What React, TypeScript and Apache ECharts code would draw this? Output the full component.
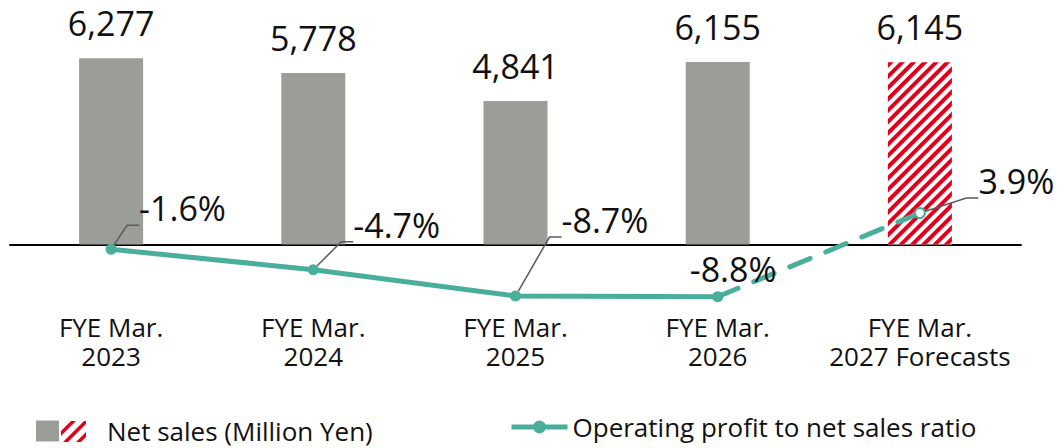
import React, { useEffect, useRef } from 'react';
import * as echarts from 'echarts';

const categories = [
  'FYE Mar.\n2023',
  'FYE Mar.\n2024',
  'FYE Mar.\n2025',
  'FYE Mar.\n2026',
  'FYE Mar.\n2027 Forecasts',
];
const netSales = [6277, 5778, 4841, 6155, 6145];
const ratioActual: (number | null)[] = [-1.6, -4.7, -8.7, -8.8, null];
const ratioForecast: (number | null)[] = [null, null, null, -8.8, 3.9];
const forecastIndex = 4;
const barName = 'Net sales (Million Yen)';
const lineName = 'Operating profit to net sales ratio';

// label layout offsets (dx, dy) relative to the default "right" position
const ratioLabelOffsets = [
  [16.5, -41],
  [28.5, -45],
  [34.5, -76],
  [-39.5, -28],
  [46.5, -32],
];
const hideLeader = [false, false, false, true, false];

const FONT = '"Open Sans", "Noto Sans", sans-serif';
const GRAY = '#9b9e98';
const RED = '#e3001b';
const TEAL = '#4aae9c';

function clipBand(x0: number, y0: number, w: number, h: number, k1: number, k2: number) {
  // region inside box where k1 <= u - v <= k2, u = x - x0, v = y0 + h - y
  let poly = [
    [0, 0],
    [w, 0],
    [w, h],
    [0, h],
  ];
  const clip = (pts: number[][], f: (p: number[]) => number) => {
    const out: number[][] = [];
    for (let i = 0; i < pts.length; i++) {
      const a = pts[i];
      const b = pts[(i + 1) % pts.length];
      const fa = f(a);
      const fb = f(b);
      if (fa >= 0) out.push(a);
      if ((fa >= 0) !== (fb >= 0)) {
        const t = fa / (fa - fb);
        out.push([a[0] + (b[0] - a[0]) * t, a[1] + (b[1] - a[1]) * t]);
      }
    }
    return out;
  };
  poly = clip(poly, (p) => p[0] - p[1] - k1);
  poly = clip(poly, (p) => k2 - (p[0] - p[1]));
  return poly.map((p) => [x0 + p[0], y0 + h - p[1]]);
}

export default function App() {
  const ref = useRef<HTMLDivElement>(null);
  useEffect(() => {
    if (!ref.current) return;
    const chart = echarts.init(ref.current, undefined, { renderer: 'svg' });

    const barData = netSales.map((v, i) =>
      i === forecastIndex
        ? {
            value: v,
            itemStyle: {
              color: '#ffffff',
              decal: {
                symbol: 'rect',
                symbolSize: 1,
                color: RED,
                dashArrayX: [1, 0],
                dashArrayY: [4, 4],
                rotation: -Math.PI / 4,
              },
            },
          }
        : v
    );

    const actualData = ratioActual.map((v, i) =>
      v == null
        ? '-'
        : {
            value: v,
            label: { show: true, offset: ratioLabelOffsets[i] },
            labelLine: { show: !hideLeader[i] },
          }
    );
    const forecastData = ratioForecast.map((v, i) => {
      if (v == null) return '-';
      if (i === forecastIndex)
        return {
          value: v,
          symbol: 'emptyCircle',
          symbolSize: 10,
          label: { show: true, offset: ratioLabelOffsets[i] },
          labelLine: { show: true },
        };
      return { value: v, symbol: 'none' };
    });

    const hatchStripes = [
      [-11, -6],
      [2, 7],
      [15, 20],
    ].map((k) => ({
      type: 'polygon',
      shape: { points: clipBand(61, 422, 25, 21, k[0], k[1]) },
      style: { fill: RED },
      silent: true,
    }));

    const pctLabel = {
      show: false,
      position: 'right',
      distance: 0,
      padding: [0, 0, 0, 6],
      fontSize: 34,
      fontFamily: FONT,
      color: '#111',
      formatter: (p: any) => Number(p.value).toFixed(1) + '%',
    };
    const leader = {
      show: false,
      length2: 12,
      lineStyle: { color: '#595959', width: 1.5 },
    };

    chart.setOption({
      animation: false,
      grid: { left: 10, right: 40, top: 30, bottom: 138, containLabel: false },
      legend: [
        {
          left: 36,
          top: 418,
          padding: 0,
          itemWidth: 23,
          itemHeight: 21,
          icon: 'rect',
          data: [barName],
          textStyle: {
            fontSize: 26,
            lineHeight: 26,
            fontFamily: FONT,
            color: '#111',
            padding: [0, 0, 0, 43],
          },
        },
        {
          left: 509,
          top: 414,
          padding: 0,
          itemWidth: 56,
          itemHeight: 16,
          lineStyle: { width: 5 },
          data: [lineName],
          textStyle: { fontSize: 26, lineHeight: 26, fontFamily: FONT, color: '#111' },
        },
      ],
      xAxis: {
        type: 'category',
        data: categories,
        axisLine: { onZero: true, lineStyle: { color: '#000', width: 2 } },
        axisTick: { show: false },
        axisLabel: {
          margin: 2,
          fontSize: 26,
          lineHeight: 29,
          fontFamily: FONT,
          color: '#111',
          interval: 0,
        },
      },
      yAxis: [
        { type: 'value', min: -2208, max: 7231, show: false, splitLine: { show: false } },
        { type: 'value', min: -10.82, max: 31.67, show: false, splitLine: { show: false } },
      ],
      series: [
        {
          name: barName,
          type: 'bar',
          barWidth: 64,
          data: barData,
          itemStyle: { color: GRAY },
          label: {
            show: true,
            position: 'top',
            distance: 18,
            fontSize: 34,
            fontFamily: FONT,
            color: '#111',
            formatter: (p: any) => Number(p.value).toLocaleString('en-US'),
          },
        },
        {
          name: lineName,
          type: 'line',
          yAxisIndex: 1,
          data: actualData,
          symbol: 'circle',
          symbolSize: 11,
          itemStyle: { color: TEAL },
          lineStyle: { color: TEAL, width: 5 },
          label: pctLabel,
          labelLine: leader,
          z: 3,
        },
        {
          name: lineName,
          type: 'line',
          yAxisIndex: 1,
          data: forecastData,
          symbol: 'circle',
          symbolSize: 11,
          itemStyle: { color: TEAL },
          lineStyle: { color: TEAL, width: 5, type: [22, 17], cap: 'round' },
          label: pctLabel,
          labelLine: leader,
          z: 3,
        },
      ],
      graphic: [
        {
          type: 'group',
          silent: true,
          children: [
            { type: 'rect', shape: { x: 61, y: 421, width: 25, height: 21 }, style: { fill: '#fff' } },
            ...hatchStripes.map((s: any) => ({
              ...s,
              shape: { points: s.shape.points.map((p: number[]) => [p[0], p[1] - 1]) },
            })),
          ],
        },
      ],
    } as any);

    return () => chart.dispose();
  }, []);

  return <div ref={ref} style={{ width: 1061, height: 448, position: 'absolute', left: 0, top: 0 }} />;
}
